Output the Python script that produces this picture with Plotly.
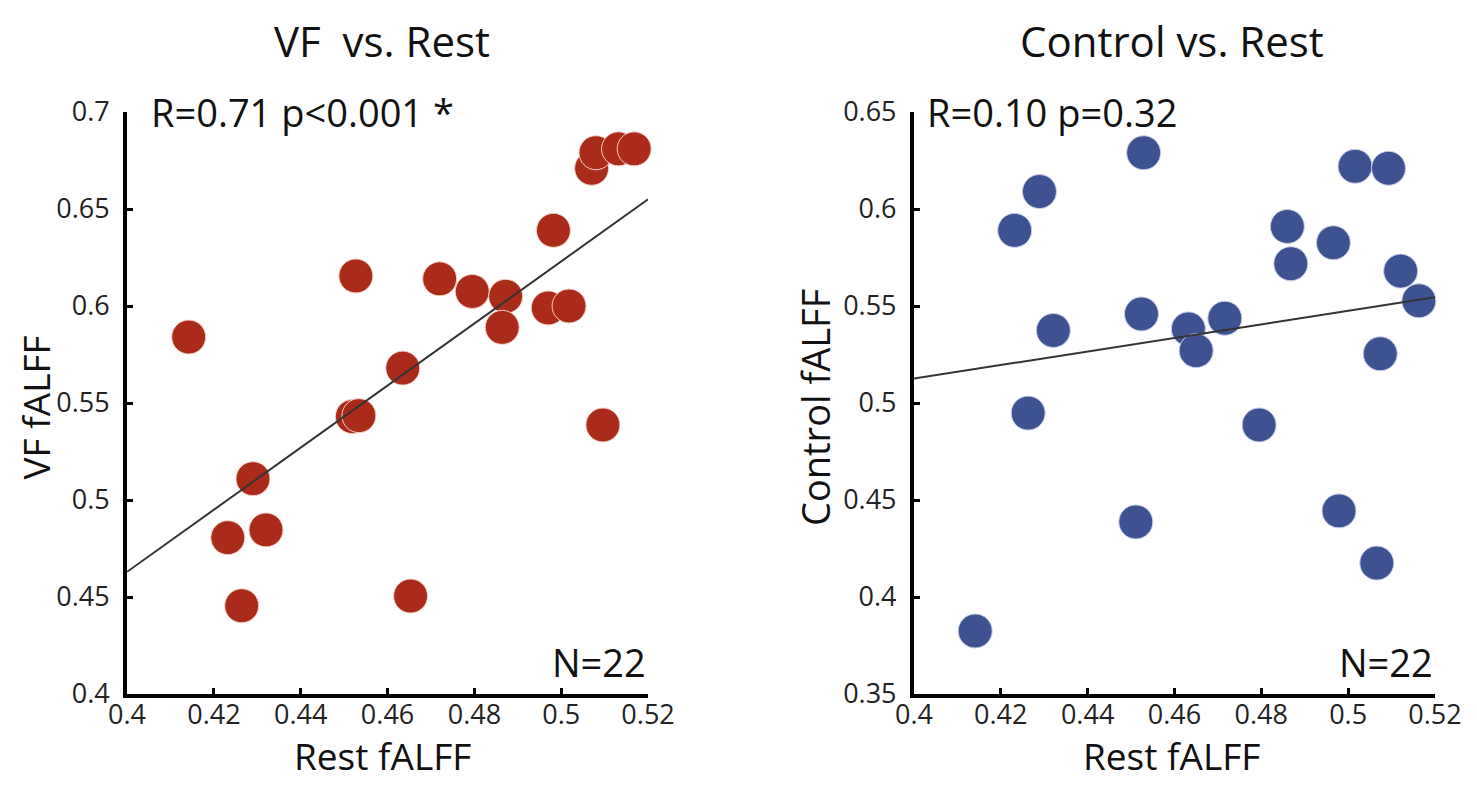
import plotly.graph_objects as go

# values (22 subjects each)
rest_vf = [0.4142, 0.4527, 0.4720, 0.4795, 0.4872, 0.4864, 0.4982, 0.4970, 0.5018, 0.5070, 0.5080,
           0.5132, 0.5168, 0.5096, 0.4635, 0.4519, 0.4534, 0.4290, 0.4320, 0.4232, 0.4264, 0.4653]
vf_falff = [0.584, 0.6155, 0.614, 0.6075, 0.605, 0.589, 0.639, 0.599, 0.600, 0.671, 0.679,
            0.681, 0.681, 0.5387, 0.568, 0.543, 0.5435, 0.511, 0.4846, 0.4806, 0.4455, 0.4505]

rest_ctrl = [0.4529, 0.4289, 0.4232, 0.5016, 0.5093, 0.4860, 0.4966, 0.4868, 0.5121, 0.5163, 0.4321,
             0.4524, 0.4632, 0.4650, 0.4716, 0.5074, 0.4263, 0.4795, 0.4511, 0.4979, 0.5066, 0.4141]
ctrl_falff = [0.629, 0.609, 0.589, 0.622, 0.621, 0.591, 0.5826, 0.5718, 0.568, 0.5527, 0.5374,
              0.5459, 0.5382, 0.527, 0.5437, 0.5254, 0.4948, 0.4887, 0.4387, 0.4444, 0.4175, 0.3825]

# regression line ends as drawn
fit_x = [0.4, 0.52]
fit_vf = [0.463, 0.655]
fit_ctrl = [0.5126, 0.5545]

x_ticks = [0.4, 0.42, 0.44, 0.46, 0.48, 0.5, 0.52]
x_labels = ["0.4", "0.42", "0.44", "0.46", "0.48", "0.5", "0.52"]
vf_ticks = [0.4, 0.45, 0.5, 0.55, 0.6, 0.65, 0.7]
vf_labels = ["0.4", "0.45", "0.5", "0.55", "0.6", "0.65", "0.7"]
ctrl_ticks = [0.35, 0.4, 0.45, 0.5, 0.55, 0.6, 0.65]
ctrl_labels = ["0.35", "0.4", "0.45", "0.5", "0.55", "0.6", "0.65"]

FONT = "Open Sans, Liberation Sans, sans-serif"
RED = "#ab2b1b"
BLUE = "#3e5291"

fig = go.Figure()
fig.add_trace(go.Scatter(x=rest_vf, y=vf_falff, mode="markers", xaxis="x", yaxis="y",
                         cliponaxis=False,
                         marker=dict(size=34, color=RED, line=dict(color="#f4d2c8", width=1))))
fig.add_trace(go.Scatter(x=fit_x, y=fit_vf, mode="lines", xaxis="x", yaxis="y",
                         line=dict(color="#333333", width=2)))
fig.add_trace(go.Scatter(x=rest_ctrl, y=ctrl_falff, mode="markers", xaxis="x2", yaxis="y2",
                         cliponaxis=False,
                         marker=dict(size=34, color=BLUE, line=dict(color="#c8d0ea", width=1))))
fig.add_trace(go.Scatter(x=fit_x, y=fit_ctrl, mode="lines", xaxis="x2", yaxis="y2",
                         line=dict(color="#333333", width=2)))

axis_common = dict(showline=True, linecolor="black", linewidth=4, showgrid=False, zeroline=False,
                   ticks="inside", ticklen=6, tickwidth=3, tickcolor="black", mirror=False,
                   automargin=False,
                   tickfont=dict(family=FONT, size=27, color="#222222"))

# the page puts the plot 8px in from the window corner, so the figure is 16px smaller
fig.update_layout(
    width=1461, height=775,
    margin=dict(l=0, r=0, t=0, b=0),
    paper_bgcolor="white", plot_bgcolor="white",
    showlegend=False,
    xaxis=dict(domain=[0.0815, 0.4381], range=[0.4, 0.52], tickvals=x_ticks, ticktext=x_labels,
               anchor="y", ticklabelstandoff=-6, **axis_common),
    yaxis=dict(domain=[0.1148, 0.8658], range=[0.4, 0.7], tickvals=vf_ticks, ticktext=vf_labels,
               anchor="x", ticklabelstandoff=8, **axis_common),
    xaxis2=dict(domain=[0.6201, 0.9767], range=[0.4, 0.52], tickvals=x_ticks, ticktext=x_labels,
                anchor="y2", ticklabelstandoff=-6, **axis_common),
    yaxis2=dict(domain=[0.1148, 0.8658], range=[0.35, 0.65], tickvals=ctrl_ticks, ticktext=ctrl_labels,
                anchor="x2", ticklabelstandoff=8, **axis_common),
)

txt = dict(family=FONT, color="#111111")
annotations = [
    # panel titles
    dict(text="VF\u00a0 vs. Rest", xref="x domain", x=0.49, yref="paper", y=0.9587,
         font=dict(size=42, **txt)),
    dict(text="Control vs. Rest", xref="x2 domain", x=0.495, yref="paper", y=0.9587,
         font=dict(size=42, **txt)),
    # statistics
    dict(text="R=0.71 p<0.001 *", xref="x", x=0.4, xanchor="left", xshift=22, yref="y", y=0.7,
         font=dict(size=38, **txt)),
    dict(text="R=0.10 p=0.32", xref="x2", x=0.4, xanchor="left", xshift=11, yref="y2", y=0.65,
         font=dict(size=38, **txt)),
    dict(text="N=22", xref="x", x=0.52, xanchor="right", yref="y", y=0.4, yanchor="bottom",
         yshift=4, font=dict(size=38, **txt)),
    dict(text="N=22", xref="x2", x=0.52, xanchor="right", yref="y2", y=0.35, yanchor="bottom",
         yshift=4, font=dict(size=38, **txt)),
    # axis titles
    dict(text="Rest fALFF", xref="x domain", x=0.49, yref="paper", y=0, yanchor="bottom",
         font=dict(size=37, **txt)),
    dict(text="Rest fALFF", xref="x2 domain", x=0.495, yref="paper", y=0, yanchor="bottom",
         font=dict(size=37, **txt)),
    dict(text="VF fALFF", xref="paper", x=0, xanchor="left", yref="paper", y=0.4839, textangle=-90,
         font=dict(size=37, **txt)),
    dict(text="Control fALFF", xref="paper", x=0.5524, yref="paper", y=0.4839, textangle=-90,
         font=dict(size=38, **txt)),
]
for a in annotations:
    a.setdefault("showarrow", False)
    a.setdefault("xanchor", "center")
    a.setdefault("yanchor", "middle")
fig.update_layout(annotations=annotations)

fig.write_html("out.html")
